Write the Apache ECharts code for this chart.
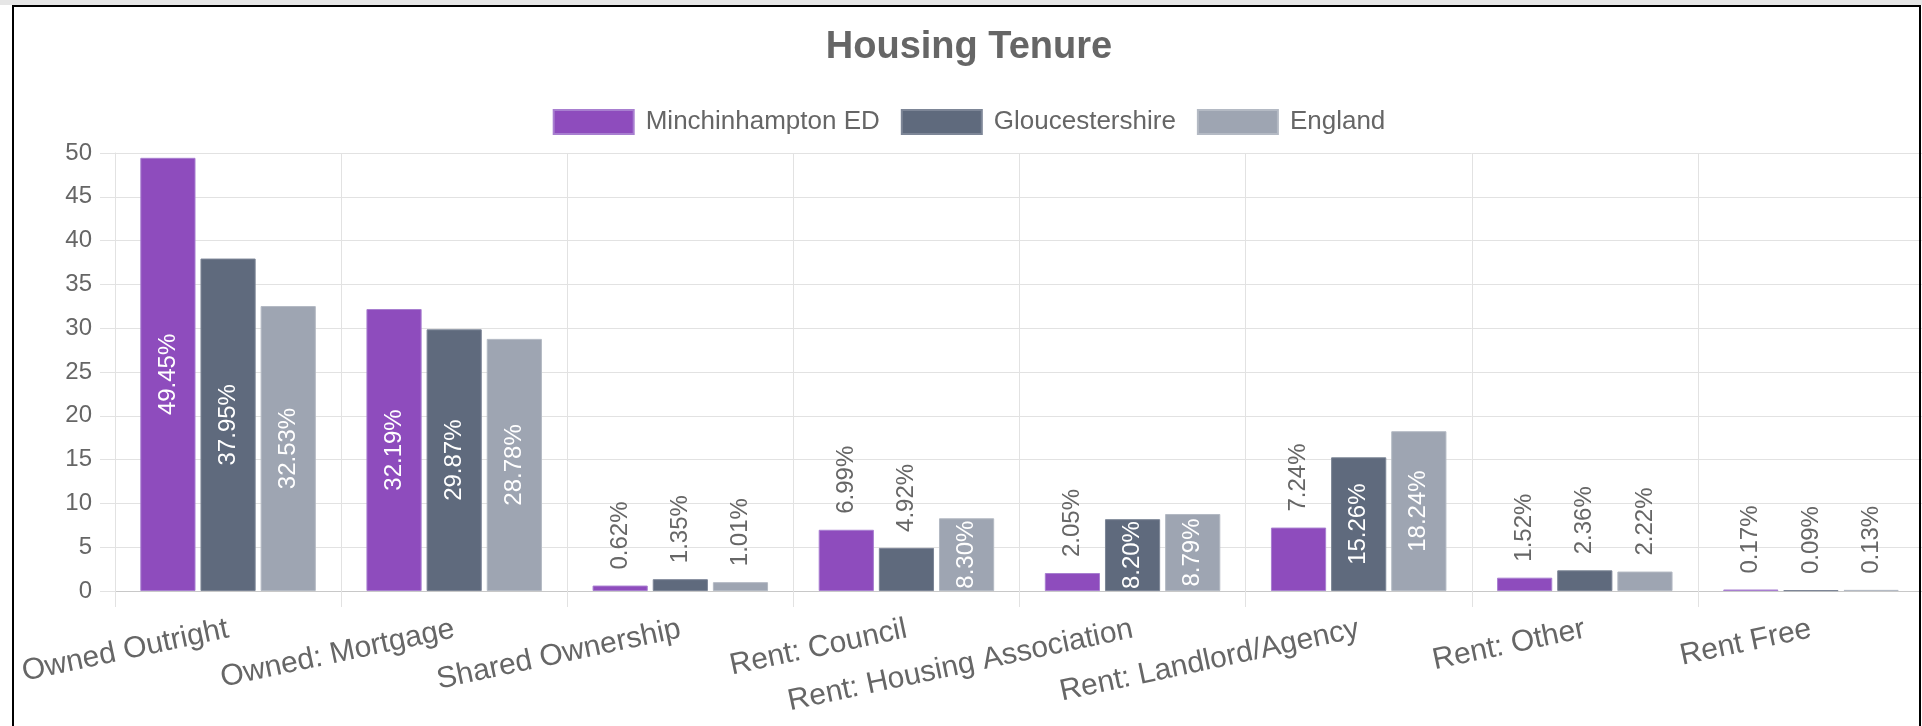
<!DOCTYPE html>
<html>
<head>
    <meta charset="utf-8">
    <title>Housing Tenure</title>
    <script src="https://cdn.jsdelivr.net/npm/echarts@6/dist/echarts.min.js"></script>
    <style>
        html, body {
            margin: 0;
            padding: 0;
            background: #fff;
            overflow: hidden;
        }
        #strip {
            position: absolute;
            left: 0;
            top: 0;
            width: 1922px;
            height: 5px;
            background: #e6e6e6;
        }
        #frame {
            position: absolute;
            left: 12px;
            top: 5px;
            width: 1909px;
            height: 800px;
            box-sizing: border-box;
            border: 2px solid #000;
            pointer-events: none;
        }
        #chart {
            position: absolute;
            left: 14px;
            top: 0;
            width: 1910px;
            height: 726px;
        }
    </style>
</head>
<body>
    <div id="strip"></div>
    <div id="chart"></div>
    <div id="frame"></div>
    <script type="text/javascript">
        var categories = ['Owned Outright', 'Owned: Mortgage', 'Shared Ownership', 'Rent: Council',
            'Rent: Housing Association', 'Rent: Landlord/Agency', 'Rent: Other', 'Rent Free'];
        var minchinhampton = [49.45, 32.19, 0.62, 6.99, 2.05, 7.24, 1.52, 0.17];
        var gloucestershire = [37.95, 29.87, 1.35, 4.92, 8.20, 15.26, 2.36, 0.09];
        var england = [32.53, 28.78, 1.01, 8.30, 8.79, 18.24, 2.22, 0.13];
        var seriesNames = ['Minchinhampton ED', 'Gloucestershire', 'England'];
        var colors = ['#8e4cbd', '#5f6a7d', '#9ea5b2'];
        var borders = ['#a87fd0', '#7d8697', '#b4bac4'];

        var fontFam = '"Liberation Sans", Arial, sans-serif';

        // big bars get the label inside, small ones above
        function buildData(arr) {
            return arr.map(function (v) {
                var inside = v >= 8;
                return {
                    value: v,
                    label: inside ? {
                        position: 'inside',
                        rotate: 90,
                        align: 'center',
                        verticalAlign: 'middle',
                        color: '#fff'
                    } : {
                        position: 'top',
                        rotate: 90,
                        align: 'left',
                        verticalAlign: 'middle',
                        distance: 16,
                        color: '#666'
                    }
                };
            });
        }

        function makeSeries(name, arr, i) {
            return {
                name: name,
                type: 'bar',
                barCategoryGap: '22.4%',
                barGap: '9%',
                itemStyle: { color: colors[i], borderColor: borders[i], borderWidth: 1 },
                label: {
                    show: true,
                    fontFamily: fontFam,
                    fontSize: 24,
                    formatter: function (p) { return p.value.toFixed(2) + '%'; }
                },
                data: buildData(arr)
            };
        }

        var chart = echarts.init(document.getElementById('chart'));
        var option = {
            animation: false,
            color: colors,
            title: {
                text: 'Housing Tenure',
                left: 'center',
                top: 24,
                textStyle: {
                    color: '#666',
                    fontSize: 38,
                    fontWeight: 'bold',
                    fontFamily: fontFam
                }
            },
            legend: {
                top: 104,
                left: 'center',
                itemWidth: 80,
                itemHeight: 24,
                itemGap: 21,
                icon: 'rect',
                textStyle: {
                    color: '#666',
                    fontSize: 26,
                    fontFamily: fontFam,
                    padding: [0, 0, 0, 7]
                },
                data: seriesNames
            },
            grid: {
                left: 101,
                right: 0,
                top: 153,
                bottom: 135,
                containLabel: false
            },
            xAxis: {
                type: 'category',
                data: categories,
                axisLine: { lineStyle: { color: '#c8c8c8' } },
                axisTick: { show: true, length: 16, lineStyle: { color: '#e2e2e2' } },
                splitLine: { show: true, lineStyle: { color: '#e2e2e2' } },
                axisLabel: {
                    rotate: 12,
                    margin: 38,
                    interval: 0,
                    color: '#666',
                    fontSize: 30,
                    fontFamily: fontFam
                }
            },
            yAxis: {
                type: 'value',
                min: 0,
                max: 50,
                interval: 5,
                axisLine: { show: true, lineStyle: { color: '#e2e2e2' } },
                axisTick: { show: true, length: 15, lineStyle: { color: '#e2e2e2' } },
                splitLine: { lineStyle: { color: '#e2e2e2' } },
                axisLabel: {
                    margin: 23,
                    color: '#666',
                    fontSize: 24,
                    fontFamily: fontFam
                }
            },
            series: [
                makeSeries(seriesNames[0], minchinhampton, 0),
                makeSeries(seriesNames[1], gloucestershire, 1),
                makeSeries(seriesNames[2], england, 2)
            ]
        };
        chart.setOption(option);
    </script>
</body>
</html>
